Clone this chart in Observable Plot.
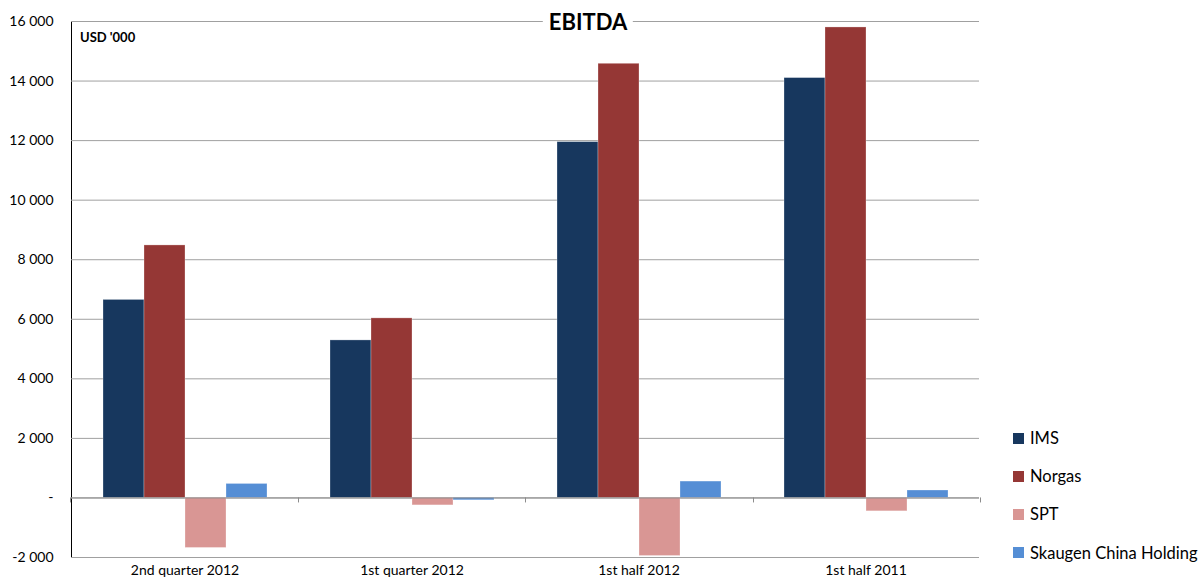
<!DOCTYPE html>
<html>
<head>
<meta charset="utf-8">
<script src="https://cdn.jsdelivr.net/npm/d3@7"></script>
<script src="https://cdn.jsdelivr.net/npm/@observablehq/plot@0.6"></script>
<style>
  html, body { margin: 0; padding: 0; background: #fff; }
  #wrap { position: relative; width: 1200px; height: 580px; font-family: Lato, "Open Sans", sans-serif; }
  #title { position: absolute; top: 7px; left: 588px; transform: translateX(-50%); background: #fff; padding: 0 6px; font-weight: bold; font-size: 22px; color: #000; line-height: 30px; }
  #unit { position: absolute; top: 29px; left: 80px; font-weight: bold; font-size: 13px; color: #000; }
  #legend { position: absolute; left: 1013px; top: 419px; }
  .row { display: flex; align-items: center; height: 38.2px; font-size: 16.5px; color: #000; white-space: nowrap; }
  .sw { width: 11px; height: 11px; margin-right: 6px; }
  svg [aria-label^="y-axis"] path, svg [aria-label^="y-axis"] line { stroke: #a0a0a0; }
</style>
</head>
<body>
<div id="wrap"></div>
<script>
const categories = ["2nd quarter 2012", "1st quarter 2012", "1st half 2012", "1st half 2011"];
const series = ["IMS", "Norgas", "SPT", "Skaugen China Holding"];
const colors = ["#17375E", "#953735", "#D99694", "#558ED5"];
const imsValues = [6650, 5290, 11950, 14100];
const norgasValues = [8480, 6030, 14580, 15800];
const sptValues = [-1680, -250, -1950, -450];
const schValues = [470, -80, 550, 250];
const yTicks = [-2000, 0, 2000, 4000, 6000, 8000, 10000, 12000, 14000, 16000];
const title = "EBITDA";
const unitLabel = "USD '000";

const valuesBySeries = [imsValues, norgasValues, sptValues, schValues];
const rows = [];
categories.forEach((c, i) => series.forEach((s, j) => rows.push({category: c, series: s, value: valuesBySeries[j][i]})));

const fmt = d3.formatLocale({decimal: ".", thousands: " ", grouping: [3], currency: ["", ""], minus: "-"}).format(",");

const plot = Plot.plot({
  width: 1200,
  height: 580,
  marginLeft: 70,
  marginRight: 220,
  marginTop: 21,
  marginBottom: 23,
  style: {fontFamily: "Lato, 'Open Sans', sans-serif", fontSize: "14px", color: "#000", background: "white", overflow: "visible"},
  facet: {data: rows, x: "category", marginTop: 0, marginBottom: 23},
  fx: {domain: categories, padding: 0, label: null, axis: "bottom", tickSize: 0, tickPadding: 8},
  x: {domain: series, paddingInner: 0, paddingOuter: 0.75, axis: null},
  y: {domain: [-2000, 16000], ticks: yTicks, tickFormat: d => d === 0 ? "-" : fmt(d), tickSize: 0, tickPadding: 18, line: true, label: null},
  color: {domain: series, range: colors},
  marks: [
    Plot.ruleY(yTicks, {stroke: "#a0a0a0", strokeWidth: 1}),
    Plot.barY(rows, {x: "series", y: "value", fill: "series", stroke: "#ffffff", strokeOpacity: 0.35, strokeWidth: 0.8}),
    Plot.ruleY([0], {stroke: "#8c8c8c", strokeWidth: 1})
  ]
});

const wrap = document.getElementById("wrap");
wrap.appendChild(plot);

// small category-boundary ticks on the zero line
try {
  const fxS = plot.scale("fx");
  const yS = plot.scale("y");
  const yLin = d3.scaleLinear(yS.domain, yS.range);
  const y0 = yLin(0);
  const r0 = fxS.range[0], r1 = fxS.range[1];
  const step = (r1 - r0) / categories.length;
  const svg = plot.tagName.toLowerCase() === "svg" ? plot : plot.querySelector("svg");
  const g = d3.select(svg).append("g").attr("stroke", "#8c8c8c");
  d3.range(categories.length + 1).forEach(i => {
    const xp = Math.round(r0 + i * step) + 0.5;
    g.append("line").attr("x1", xp).attr("x2", xp).attr("y1", y0).attr("y2", y0 + 5);
  });
} catch (e) { console.error(e); }

const t = document.createElement("div"); t.id = "title"; t.textContent = title; wrap.appendChild(t);
const u = document.createElement("div"); u.id = "unit"; u.textContent = unitLabel; wrap.appendChild(u);
const lg = document.createElement("div"); lg.id = "legend";
series.forEach((s, i) => {
  const r = document.createElement("div"); r.className = "row";
  const sw = document.createElement("span"); sw.className = "sw"; sw.style.background = colors[i];
  const tx = document.createElement("span"); tx.textContent = s;
  r.appendChild(sw); r.appendChild(tx); lg.appendChild(r);
});
wrap.appendChild(lg);
</script>
</body>
</html>
